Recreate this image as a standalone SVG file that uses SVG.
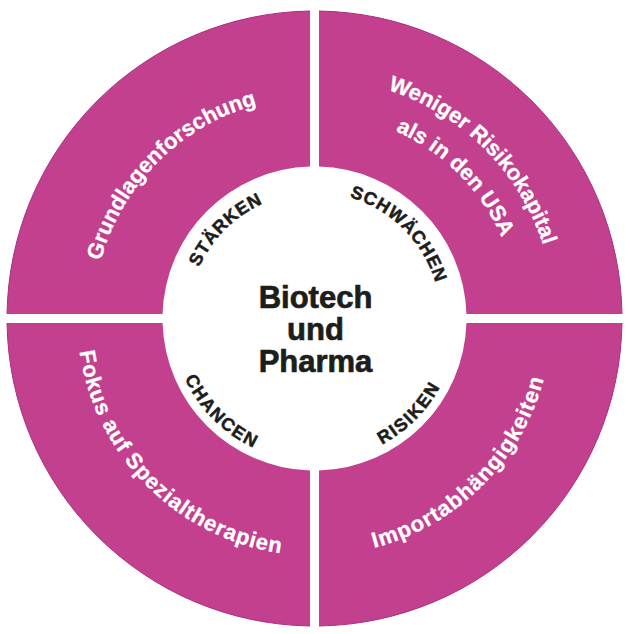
<svg xmlns="http://www.w3.org/2000/svg" width="626" height="634" viewBox="0 0 626 634">
<style>
.q{fill:#C2408E}
.edge{fill:none;stroke:#A93081;stroke-width:1}
.ring{font-family:"Liberation Sans",Arial,Helvetica,sans-serif;font-weight:bold;font-size:22px;fill:#FFFFFF;stroke:#FFFFFF;stroke-width:0.3}
.lab{font-family:"Liberation Sans",Arial,Helvetica,sans-serif;font-weight:bold;font-size:18px;fill:#1D1D1B;stroke:#1D1D1B;stroke-width:0.5}
.ctr{font-family:"Liberation Sans",Arial,Helvetica,sans-serif;font-weight:bold;font-size:31px;fill:#1D1D1B;stroke:#1D1D1B;stroke-width:0.7}
</style>
<defs>
<path id="pGrund" d="M156.82,476.18 A223,223 0 0 1 472.18,160.82"/>
<path id="pWen1" d="M144.79,148.79 A240,240 0 0 1 484.21,488.21"/>
<path id="pWen2" d="M170.25,174.25 A204,204 0 0 1 458.75,462.75"/>
<path id="pFokus" d="M146.21,150.21 A238,238 0 0 0 482.79,486.79"/>
<path id="pImport" d="M146.21,486.79 A238,238 0 0 0 482.79,150.21"/>
<path id="pStaerken" d="M224.70,408.30 A127,127 0 0 1 404.30,228.70"/>
<path id="pSchw" d="M224.70,228.70 A127,127 0 0 1 404.30,408.30"/>
<path id="pChancen" d="M213.38,217.38 A143,143 0 0 0 415.62,419.62"/>
<path id="pRisiken" d="M213.38,419.62 A143,143 0 0 0 415.62,217.38"/>
</defs>
<rect x="0" y="0" width="626" height="634" fill="#FFFFFF"/>

<g id="staerken">
<path class="q" d="M7.03,314 A307.5,307.5 0 0 1 310,11.03 L310,166.57 A152,152 0 0 0 162.57,314 Z"/>
<path class="edge" d="M7.03,314 A307.5,307.5 0 0 1 310,11.03"/>
<text class="ring"><textPath href="#pGrund" startOffset="50%" text-anchor="middle">Grundlagenforschung</textPath></text>
<text class="lab" letter-spacing="0.8"><textPath href="#pStaerken" startOffset="50%" text-anchor="middle">STÄRKEN</textPath></text>
</g>

<g id="schwaechen">
<path class="q" d="M319,11.03 A307.5,307.5 0 0 1 621.97,314 L466.43,314 A152,152 0 0 0 319,166.57 Z"/>
<path class="edge" d="M319,11.03 A307.5,307.5 0 0 1 621.97,314"/>
<text class="ring"><textPath href="#pWen1" startOffset="50%" text-anchor="middle">Weniger Risikokapital</textPath></text>
<text class="ring"><textPath href="#pWen2" startOffset="50%" text-anchor="middle">als in den USA</textPath></text>
<text class="lab" letter-spacing="0.9"><textPath href="#pSchw" startOffset="50%" text-anchor="middle">SCHWÄCHEN</textPath></text>
</g>

<g id="risiken">
<path class="q" d="M621.97,323 A307.5,307.5 0 0 1 319,625.97 L319,470.43 A152,152 0 0 0 466.43,323 Z"/>
<path class="edge" d="M621.97,323 A307.5,307.5 0 0 1 319,625.97"/>
<text class="ring" letter-spacing="1.1"><textPath href="#pImport" startOffset="50%" text-anchor="middle">Importabhängigkeiten</textPath></text>
<text class="lab" letter-spacing="1.6"><textPath href="#pRisiken" startOffset="50%" text-anchor="middle">RISIKEN</textPath></text>
</g>

<g id="chancen">
<path class="q" d="M310,625.97 A307.5,307.5 0 0 1 7.03,323 L162.57,323 A152,152 0 0 0 310,470.43 Z"/>
<path class="edge" d="M310,625.97 A307.5,307.5 0 0 1 7.03,323"/>
<text class="ring" letter-spacing="0.8"><textPath href="#pFokus" startOffset="50%" text-anchor="middle">Fokus auf Spezialtherapien</textPath></text>
<text class="lab" letter-spacing="1.6"><textPath href="#pChancen" startOffset="50%" text-anchor="middle">CHANCEN</textPath></text>
</g>

<g id="center">
<text class="ctr" x="315.5" y="308" text-anchor="middle">Biotech</text>
<text class="ctr" x="315.5" y="340" text-anchor="middle">und</text>
<text class="ctr" x="315.5" y="372" text-anchor="middle">Pharma</text>
</g>

<g id="connectors"></g>
</svg>
